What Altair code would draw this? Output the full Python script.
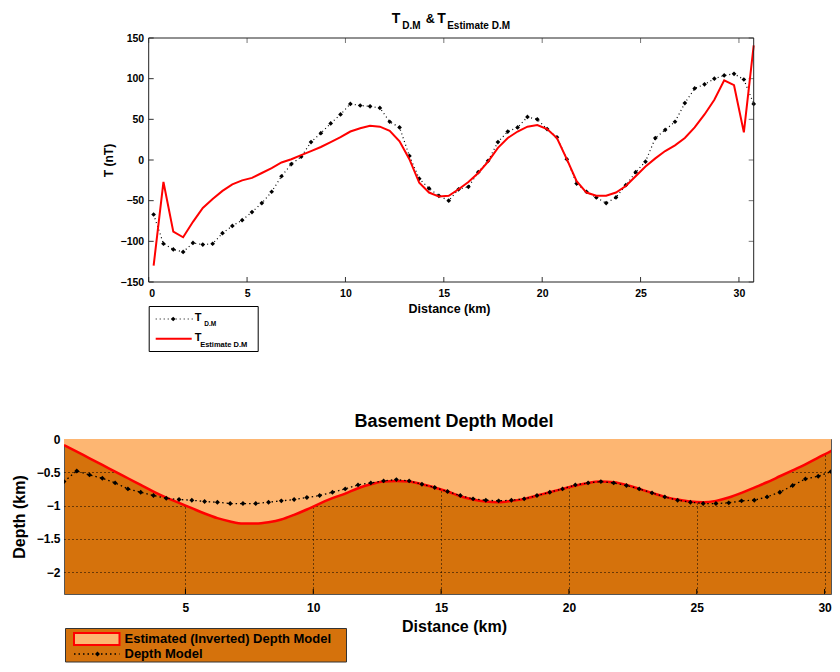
import altair as alt
import pandas as pd

# ---------------- data ----------------
DISTANCE = [0.25, 0.75, 1.25, 1.75, 2.25, 2.75, 3.25, 3.75, 4.25, 4.75,
            5.25, 5.75, 6.25, 6.75, 7.25, 7.75, 8.25, 8.75, 9.25, 9.75,
            10.25, 10.75, 11.25, 11.75, 12.25, 12.75, 13.25, 13.75, 14.25, 14.75,
            15.25, 15.75, 16.25, 16.75, 17.25, 17.75, 18.25, 18.75, 19.25, 19.75,
            20.25, 20.75, 21.25, 21.75, 22.25, 22.75, 23.25, 23.75, 24.25, 24.75,
            25.25, 25.75, 26.25, 26.75, 27.25, 27.75, 28.25, 28.75, 29.25, 29.75,
            30.25, 30.75]

T_DM = [-67, -103, -110, -113, -102, -104, -103, -90, -81, -74,
        -64, -53, -39, -20, -5, 4, 22, 33, 45, 56,
        69, 67, 66, 64, 47, 40, 5, -23, -35, -44,
        -50, -36, -33, -15, -1, 22, 35, 40, 53, 50,
        38, 28, 1, -29, -39, -46, -53, -46, -31, -15,
        -2, 27, 37, 47, 70, 88, 93, 100, 104, 106,
        99, 69]

T_ESTIMATE = [-130, -27, -88, -95, -76, -59, -48, -38, -30, -25,
              -22, -16, -10, -3, 1, 6, 11, 16, 22, 28,
              35, 39, 42, 41, 36, 23, 1, -28, -40, -45,
              -44, -36, -27, -16, -2, 15, 27, 35, 41, 43,
              38, 27, 1, -26, -40, -44, -44, -40, -32, -20,
              -8, 2, 11, 18, 27, 40, 56, 74, 98, 92,
              34, 141]

DEPTH_MODEL = [-0.64, -0.48, -0.54, -0.59, -0.66, -0.75, -0.80, -0.85, -0.89, -0.91,
               -0.92, -0.94, -0.95, -0.97, -0.97, -0.97, -0.95, -0.93, -0.91, -0.88,
               -0.85, -0.80, -0.75, -0.69, -0.66, -0.63, -0.61, -0.63, -0.68, -0.73,
               -0.79, -0.85, -0.90, -0.92, -0.93, -0.92, -0.90, -0.85, -0.80, -0.75,
               -0.69, -0.66, -0.64, -0.66, -0.70, -0.75, -0.81, -0.87, -0.92, -0.95,
               -0.97, -0.97, -0.96, -0.93, -0.92, -0.87, -0.80, -0.70, -0.60, -0.56,
               -0.49, -0.53]

DEPTH_ESTIMATE = [-0.09, -0.19, -0.29, -0.39, -0.49, -0.59, -0.69, -0.79, -0.88, -0.96,
                  -1.04, -1.12, -1.19, -1.24, -1.27, -1.27, -1.25, -1.21, -1.14, -1.06,
                  -0.97, -0.89, -0.82, -0.74, -0.68, -0.64, -0.63, -0.64, -0.68, -0.73,
                  -0.79, -0.86, -0.91, -0.94, -0.95, -0.93, -0.90, -0.85, -0.80, -0.75,
                  -0.70, -0.66, -0.64, -0.65, -0.69, -0.75, -0.81, -0.87, -0.91, -0.94,
                  -0.95, -0.93, -0.88, -0.81, -0.73, -0.65, -0.56, -0.47, -0.38, -0.28,
                  -0.18, -0.06]

TOP_XTICKS = [0, 5, 10, 15, 20, 25, 30]
TOP_YTICKS = [-150, -100, -50, 0, 50, 100, 150]
BOT_XTICKS = [5, 10, 15, 20, 25, 30]
BOT_YTICKS = [0, -0.5, -1, -1.5, -2]

FONT = "Liberation Sans, Arial, Helvetica, sans-serif"
LIGHT = "#FDB672"
DARK = "#D5720C"
RED = "#FF0000"

df = pd.DataFrame({"d": DISTANCE, "tdm": T_DM, "test": T_ESTIMATE,
                   "dm": DEPTH_MODEL, "est": DEPTH_ESTIMATE})
ONE = pd.DataFrame({"k": [0]})


def txt(text, x, y, size, weight="bold", align="left", baseline="alphabetic", color="black"):
    return alt.Chart(ONE).mark_text(text=text, font=FONT, fontSize=size, fontWeight=weight,
                                    align=align, baseline=baseline, color=color).encode(
        x=alt.value(x), y=alt.value(y))


# ---------------- top chart ----------------
# The top panel sits further right than the bottom one: its plot is drawn
# inside a wider group, from OFF to OFF + PW1 pixels.
OFF = 84.7
PW1 = 605
W1, H1 = 690, 244
xs1 = alt.Scale(domain=[0, 30.75], range=[OFF, OFF + PW1], nice=False, zero=False)
ys1 = alt.Scale(domain=[-150, 150], nice=False, zero=False)

xax1 = alt.Axis(values=TOP_XTICKS, format="d", title="Distance (km)", ticks=False, tickSize=0,
                domain=False, grid=False, labelFont=FONT, labelFontSize=10.5, labelFontWeight="bold",
                labelColor="black", labelPadding=6, titleFont=FONT, titleFontSize=12.5,
                titleFontWeight="bold", titleColor="black", titlePadding=4, titleX=385)
yax1 = alt.Axis(values=TOP_YTICKS, format="d", title="T (nT)", ticks=False, tickSize=0,
                domain=False, grid=False, offset=-OFF, labelFont=FONT, labelFontSize=10.5,
                labelFontWeight="bold", labelColor="black", labelPadding=5, titleFont=FONT,
                titleFontSize=12, titleFontWeight="bold", titleColor="black", titlePadding=5)

base1 = alt.Chart(df)
X1 = alt.X("d:Q", scale=xs1, axis=xax1)
tdm_line = base1.mark_line(color="black", strokeWidth=1.2, strokeDash=[1, 3]).encode(
    x=X1, y=alt.Y("tdm:Q", scale=ys1, axis=yax1))
tdm_pts = base1.mark_point(shape="diamond", filled=True, size=22, color="black", opacity=1).encode(
    x=X1, y=alt.Y("tdm:Q", scale=ys1, axis=yax1))
test_line = base1.mark_line(color=RED, strokeWidth=2).encode(
    x=X1, y=alt.Y("test:Q", scale=ys1, axis=yax1))

xt1 = pd.DataFrame({"t": TOP_XTICKS})
yt1 = pd.DataFrame({"t": TOP_YTICKS})
tick_b = alt.Chart(xt1).mark_rule(color="#333", strokeWidth=1).encode(
    x=alt.X("t:Q", scale=xs1, axis=xax1), y=alt.value(H1), y2=alt.value(H1 - 5))
tick_t = alt.Chart(xt1).mark_rule(color="#777", strokeWidth=1).encode(
    x=alt.X("t:Q", scale=xs1, axis=xax1), y=alt.value(0), y2=alt.value(5))
tick_l = alt.Chart(yt1).mark_rule(color="#333", strokeWidth=1).encode(
    y=alt.Y("t:Q", scale=ys1, axis=yax1), x=alt.value(OFF), x2=alt.value(OFF + 5))
tick_r = alt.Chart(yt1).mark_rule(color="#777", strokeWidth=1).encode(
    y=alt.Y("t:Q", scale=ys1, axis=yax1), x=alt.value(OFF + PW1), x2=alt.value(OFF + PW1 - 5))
frame1 = alt.Chart(ONE).mark_rect(fillOpacity=0, stroke="#222", strokeWidth=1).encode(
    x=alt.value(OFF), x2=alt.value(OFF + PW1), y=alt.value(0), y2=alt.value(H1))

# title with subscripts
title1 = [
    txt("T", OFF + 243, -15.5, 14),
    txt("D.M", OFF + 253.5, -9, 10),
    txt("&", OFF + 277, -15.5, 12.5),
    txt("T", OFF + 288.5, -15.5, 14),
    txt("Estimate D.M", OFF + 298.5, -9, 10),
]

# legend (top)
leg1_box = alt.Chart(ONE).mark_rect(fill="white", stroke="black", strokeWidth=1).encode(
    x=alt.value(OFF + 0.5), x2=alt.value(OFF + 109.5), y=alt.value(268.5), y2=alt.value(313.5))
leg1_l1 = alt.Chart(ONE).mark_rule(color="black", strokeWidth=1.2, strokeDash=[1, 3]).encode(
    x=alt.value(OFF + 7), x2=alt.value(OFF + 44), y=alt.value(281))
leg1_p1 = alt.Chart(ONE).mark_point(shape="diamond", filled=True, size=22, color="black", opacity=1).encode(
    x=alt.value(OFF + 24.5), y=alt.value(281))
leg1_l2 = alt.Chart(ONE).mark_rule(color=RED, strokeWidth=2).encode(
    x=alt.value(OFF + 7), x2=alt.value(OFF + 43), y=alt.value(300.7))
leg1_txt = [
    txt("T", OFF + 46, 283, 11),
    txt("D.M", OFF + 55.5, 288, 6.5),
    txt("T", OFF + 46, 303, 11),
    txt("Estimate D.M", OFF + 51.5, 309, 7.5),
]

top = alt.layer(
    tick_b, tick_t, tick_l, tick_r, tdm_line, tdm_pts, test_line, frame1,
    *title1, leg1_box, leg1_l1, leg1_p1, leg1_l2, *leg1_txt
).properties(width=W1, height=H1,
             view=alt.ViewBackground(fill="white", stroke="transparent", strokeWidth=0))

# ---------------- bottom chart ----------------
W2, H2 = 767, 155
xs2 = alt.Scale(domain=[0.25, 30.25], nice=False, zero=False)
ys2 = alt.Scale(domain=[-2.33, 0], nice=False, zero=False)

xax2 = alt.Axis(values=BOT_XTICKS, format="d", title="Distance (km)", ticks=False, tickSize=0,
                domain=False, grid=True, gridColor="black", gridDash=[1, 3], gridWidth=1, gridOpacity=1,
                labelFont=FONT, labelFontSize=12, labelFontWeight="bold", labelColor="black",
                labelPadding=8, titleFont=FONT, titleFontSize=16, titleFontWeight="bold",
                titleColor="black", titlePadding=5, titleX=390)
yax2 = alt.Axis(values=BOT_YTICKS, format="~g", title="Depth (km)", ticks=False, tickSize=0,
                domain=False, grid=True, gridColor="black", gridDash=[1, 3], gridWidth=1, gridOpacity=1,
                labelFont=FONT, labelFontSize=12, labelFontWeight="bold", labelColor="black",
                labelPadding=4, titleFont=FONT, titleFontSize=16, titleFontWeight="bold",
                titleColor="black", titlePadding=9)

base2 = alt.Chart(df)
X2 = alt.X("d:Q", scale=xs2, axis=xax2)
light_area = base2.mark_area(color=LIGHT, opacity=1, interpolate="monotone", clip=True).encode(
    x=X2, y=alt.Y("est:Q", scale=ys2, axis=yax2), y2=alt.datum(0))
est_line = base2.mark_line(color=RED, strokeWidth=2.5, interpolate="monotone", clip=True).encode(
    x=X2, y=alt.Y("est:Q", scale=ys2, axis=yax2))
dm_line = base2.mark_line(color="black", strokeWidth=1.3, strokeDash=[1.5, 3], clip=True).encode(
    x=X2, y=alt.Y("dm:Q", scale=ys2, axis=yax2))
dm_pts = base2.mark_point(shape="diamond", filled=True, size=24, color="black", opacity=1, clip=True).encode(
    x=X2, y=alt.Y("dm:Q", scale=ys2, axis=yax2))
tick_b2 = alt.Chart(pd.DataFrame({"t": BOT_XTICKS})).mark_rule(color="black", strokeWidth=1).encode(
    x=alt.X("t:Q", scale=xs2, axis=xax2), y=alt.value(H2), y2=alt.value(H2 - 5))

title2 = txt("Basement Depth Model", 390, -12, 18, align="center")

leg2_box = alt.Chart(ONE).mark_rect(fill=DARK, stroke="#333", strokeWidth=1).encode(
    x=alt.value(1.5), x2=alt.value(282.5), y=alt.value(189.5), y2=alt.value(223))
leg2_patch = alt.Chart(ONE).mark_rect(fill=LIGHT, stroke=RED, strokeWidth=2).encode(
    x=alt.value(10), x2=alt.value(55.5), y=alt.value(194), y2=alt.value(206))
leg2_t1 = txt("Estimated (Inverted) Depth Model", 60.5, 200, 13, baseline="middle")
leg2_l2 = alt.Chart(ONE).mark_rule(color="black", strokeWidth=1.3, strokeDash=[1.5, 3]).encode(
    x=alt.value(10), x2=alt.value(55.5), y=alt.value(215))
leg2_p2 = alt.Chart(ONE).mark_point(shape="diamond", filled=True, size=24, color="black", opacity=1).encode(
    x=alt.value(33.5), y=alt.value(215))
leg2_t2 = txt("Depth Model", 60.5, 215, 13, baseline="middle")

bottom = alt.layer(
    light_area, est_line, dm_line, dm_pts, tick_b2, title2,
    leg2_box, leg2_patch, leg2_t1, leg2_l2, leg2_p2, leg2_t2
).properties(width=W2, height=H2, view=alt.ViewBackground(fill=DARK, stroke="#555", strokeWidth=1))

chart = alt.vconcat(top, bottom, spacing=60).properties(
    padding={"left": 2, "top": 3, "right": 0, "bottom": 0}
).configure(background="white")

chart.save("out.html", embed_options={"renderer": "svg", "actions": False})
